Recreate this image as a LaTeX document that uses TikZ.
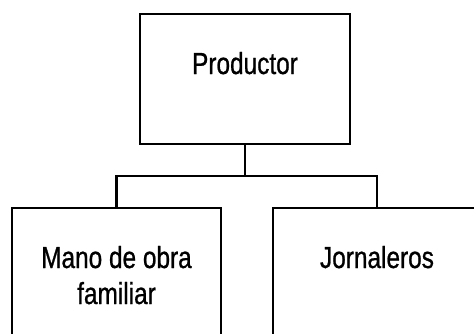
\documentclass[tikz,border=0pt]{standalone}
\usepackage{fontspec}
\setmainfont{Liberation Sans}[FakeStretch=0.8,FakeBold=0.8]
\begin{document}
\begin{tikzpicture}[x=1pt,y=-1pt,
  box/.style={draw=black,line width=2.9pt,rectangle,inner sep=0pt},
  conn/.style={draw=black,line width=2.9pt},
  lbl/.style={font=\fontsize{30.5}{36}\selectfont,anchor=base,align=center,inner sep=0pt}]
\useasboundingbox (0,0) rectangle (474,333);
\clip (0,0) rectangle (474,333);
\node[box,minimum width=210pt,minimum height=130pt] (top) at (245,79) {};
\node[box,minimum width=209pt,minimum height=160pt] (left) at (116.5,288) {};
\node[box,minimum width=208pt,minimum height=160pt] (right) at (377,288) {};
\node[lbl] (tprod) at (245,74) {Productor};
\node[lbl] (tmano) at (116.5,304) {Mano de obra\\familiar};
\node[lbl] (tjorn) at (377,268) {Jornaleros};
\coordinate (j) at (245,176);
\draw[conn] (top.south) -- (j);
\draw[conn] (left.north) |- (j) -| (right.north);
\end{tikzpicture}
\end{document}
